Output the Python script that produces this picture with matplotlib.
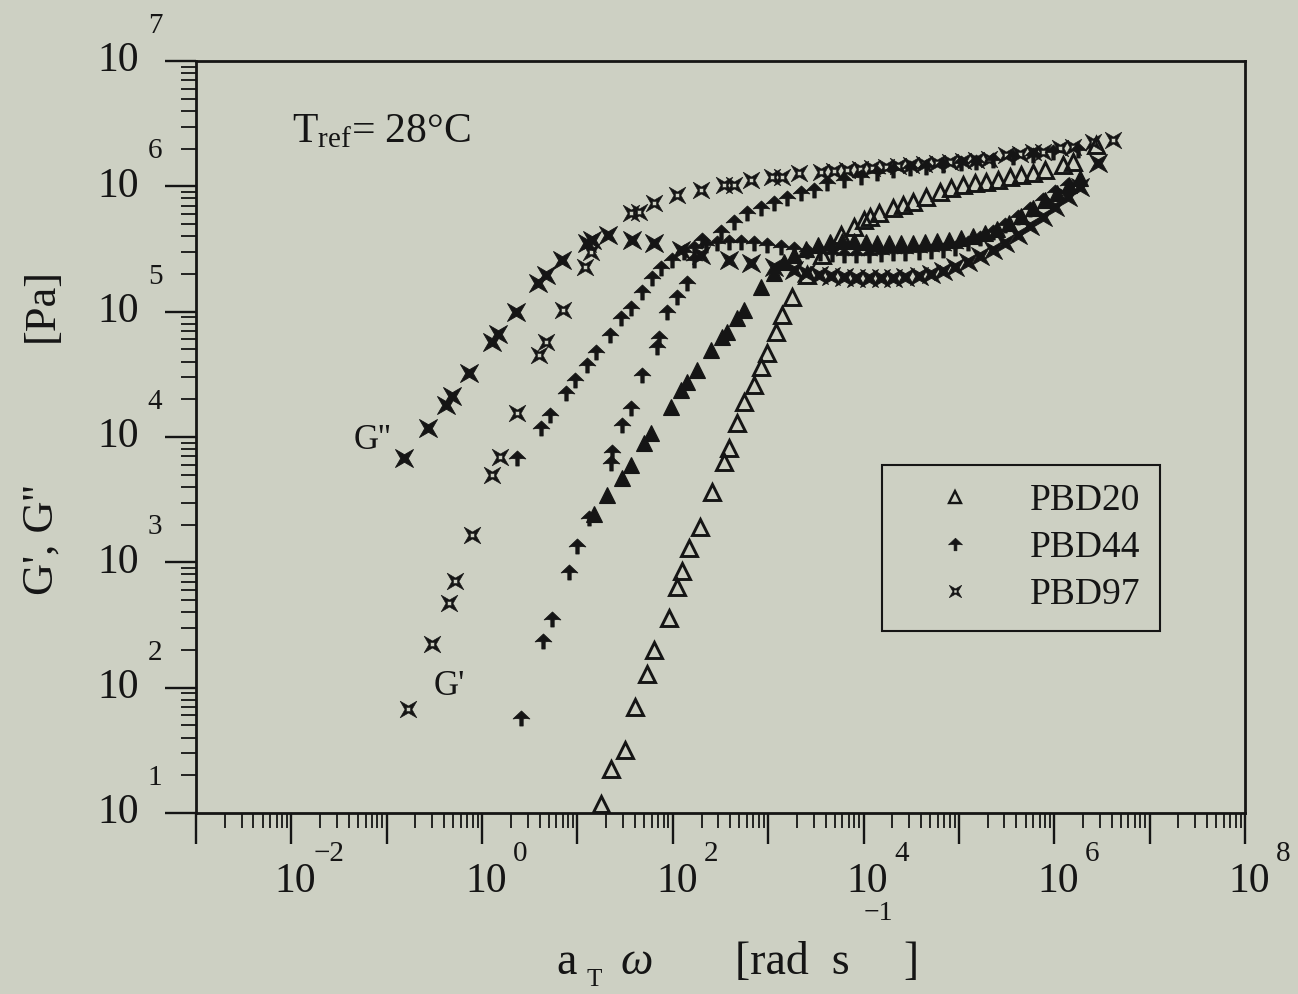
import matplotlib
matplotlib.use("Agg")
import matplotlib.pyplot as plt
import numpy as np
from matplotlib.lines import Line2D
from matplotlib.path import Path
from matplotlib.ticker import FixedLocator, LogLocator, NullFormatter

plt.rcParams["font.family"] = ["Liberation Serif", "DejaVu Serif"]
plt.rcParams["mathtext.fontset"] = "custom"
plt.rcParams["mathtext.rm"] = "Liberation Serif"
plt.rcParams["mathtext.it"] = "Liberation Serif:italic"

BG = "#cdd0c3"
INK = "#151515"

# ---- data: a_T*omega [rad/s], G' and G'' [Pa] ----
pbd20_gp_w = [17.6, 22.4, 31.4, 40.0, 53.5, 63.2, 90.8, 110, 124, 147, 192, 256, 342, 386, 468,
              554, 705, 834, 964, 1200, 1380, 1760, 2530, 3630, 5740, 7850, 1.0e4, 1.18e4, 1.44e4,
              2.06e4, 2.62e4, 3.34e4, 4.57e4, 6.40e4, 8.30e4, 1.11e5, 1.49e5, 1.94e5, 2.59e5,
              3.46e5, 4.51e5, 6.03e5, 8.05e5, 1.24e6, 1.58e6, 2.75e6]
pbd20_gp = [11.8, 22.5, 32, 70.5, 129, 198, 362, 630, 859, 1310, 1930, 3610, 6270, 8110, 1.29e4,
            1.89e4, 2.58e4, 3.6e4, 4.66e4, 6.84e4, 9.35e4, 1.30e5, 1.95e5, 2.82e5, 4.07e5, 4.72e5,
            5.37e5, 5.67e5, 6.1e5, 6.7e5, 7.08e5, 7.48e5, 8.2e5, 9.0e5, 9.68e5, 1.02e6, 1.06e6,
            1.08e6, 1.12e6, 1.18e6, 1.23e6, 1.27e6, 1.35e6, 1.48e6, 1.56e6, 2.13e6]

pbd20_gpp_w = [14.9, 20.4, 29.2, 36.3, 49.7, 58.8, 95.3, 121, 140, 178, 250, 326, 367, 468, 554,
               834, 1140, 1450, 1850, 2470, 3300, 4410, 5890, 7850, 1.05e4, 1.40e4, 1.87e4, 2.50e4,
               3.34e4, 4.46e4, 5.96e4, 7.96e4, 1.06e5, 1.42e5, 1.89e5, 2.53e5, 3.38e5, 4.51e5,
               6.03e5, 8.05e5, 1.07e6, 1.44e6, 1.87e6]
pbd20_gpp = [2.45e3, 3.42e3, 4.75e3, 5.93e3, 8.89e3, 1.07e4, 1.72e4, 2.36e4, 2.73e4, 3.40e4, 4.92e4,
             6.25e4, 6.84e4, 8.85e4, 1.03e5, 1.57e5, 2.03e5, 2.48e5, 2.82e5, 3.15e5, 3.39e5, 3.58e5,
             3.65e5, 3.65e5, 3.58e5, 3.52e5, 3.52e5, 3.52e5, 3.52e5, 3.58e5, 3.65e5, 3.72e5, 3.85e5,
             4.0e5, 4.23e5, 4.55e5, 5.08e5, 5.78e5, 6.7e5, 7.76e5, 8.83e5, 1.02e6, 1.16e6]

pbd44_gp_w = [2.56, 4.35, 5.41, 8.15, 9.88, 13.2, 22.4, 23.0, 29.2, 36.3, 47.3, 68.0, 71.3, 86.5,
              110, 140, 166, 201, 318, 435, 596, 834, 1140, 1560, 2190, 2990, 4100, 6180, 9310,
              1.37e4, 2.06e4, 3.10e4, 4.57e4, 6.89e4, 1.04e5, 1.52e5, 2.30e5, 3.72e5, 6.03e5,
              9.77e5, 1.78e6]
pbd44_gp = [57.5, 237, 356, 845, 1360, 2240, 6150, 7540, 1.24e4, 1.69e4, 3.10e4, 5.20e4, 6.14e4,
            9.89e4, 1.30e5, 1.69e5, 2.58e5, 3.72e5, 4.31e5, 5.18e5, 6.11e5, 6.7e5, 7.34e5, 8.05e5,
            8.83e5, 9.33e5, 1.06e6, 1.12e6, 1.18e6, 1.27e6, 1.35e6, 1.40e6, 1.42e6, 1.48e6, 1.53e6,
            1.56e6, 1.62e6, 1.71e6, 1.77e6, 1.87e6, 1.95e6]

pbd44_gpp_w = [2.32, 4.15, 5.15, 7.58, 9.42, 12.6, 15.6, 21.9, 28.5, 36.3, 47.3, 60.3, 74.8, 97.7,
               130, 166, 222, 289, 386, 515, 705, 964, 1350, 1850, 2530, 3460, 4620, 6180, 8240,
               1.13e4, 1.51e4, 2.06e4, 2.75e4, 3.77e4, 5.04e4, 6.89e4, 9.19e4, 1.26e5, 1.68e5,
               2.30e5, 3.07e5, 4.20e5, 5.61e5, 7.67e5, 1.02e6, 1.40e6]
pbd44_gpp = [6.74e3, 1.17e4, 1.49e4, 2.23e4, 2.83e4, 3.73e4, 4.74e4, 6.48e4, 8.85e4, 1.06e5, 1.43e5,
             1.85e5, 2.22e5, 2.58e5, 2.98e5, 3.21e5, 3.39e5, 3.52e5, 3.58e5, 3.58e5, 3.52e5, 3.39e5,
             3.27e5, 3.15e5, 3.05e5, 2.95e5, 2.88e5, 2.85e5, 2.85e5, 2.85e5, 2.88e5, 2.92e5, 2.95e5,
             3.0e5, 3.05e5, 3.12e5, 3.25e5, 3.52e5, 3.85e5, 4.31e5, 4.90e5, 5.67e5, 6.58e5, 7.76e5,
             9.0e5, 1.02e6]

pbd97_gp_w = [0.168, 0.299, 0.451, 0.521, 0.786, 1.27, 1.54, 2.32, 3.95, 4.68, 7.05, 12.0, 13.8,
              36.3, 44.0, 63.2, 110, 196, 342, 435, 656, 1090, 1380, 2080, 3550, 4850, 6640, 9080,
              1.24e4, 1.70e4, 2.32e4, 3.18e4, 4.35e4, 5.96e4, 8.15e4, 1.11e5, 1.52e5, 2.08e5,
              3.14e5, 4.4e5, 6.03e5, 7.67e5, 1.16e6, 1.58e6, 2.56e6, 4.15e6]
pbd97_gp = [68, 224, 478, 716, 1640, 4930, 6870, 1.54e4, 4.49e4, 5.70e4, 1.04e5, 2.26e5, 2.98e5,
            6.11e5, 6.22e5, 7.34e5, 8.51e5, 9.33e5, 1.02e6, 1.02e6, 1.12e6, 1.18e6, 1.18e6, 1.27e6,
            1.30e6, 1.32e6, 1.35e6, 1.37e6, 1.40e6, 1.42e6, 1.45e6, 1.48e6, 1.50e6, 1.53e6, 1.56e6,
            1.59e6, 1.62e6, 1.65e6, 1.77e6, 1.82e6, 1.87e6, 1.87e6, 2.02e6, 2.06e6, 2.25e6, 2.34e6]

pbd97_gpp_w = [0.152, 0.272, 0.420, 0.485, 0.731, 1.27, 1.47, 2.27, 3.86, 4.68, 6.88, 12.6, 14.2,
               20.9, 37.2, 63.2, 121, 196, 386, 656, 1140, 1850, 2470, 3380, 4510, 6180, 8240,
               1.13e4, 1.51e4, 2.06e4, 2.75e4, 3.77e4, 5.04e4, 6.89e4, 9.19e4, 1.26e5, 1.68e5,
               2.30e5, 3.07e5, 4.20e5, 5.61e5, 7.67e5, 1.02e6, 1.40e6, 1.87e6, 2.89e6]
pbd97_gpp = [6.74e3, 1.19e4, 1.79e4, 2.11e4, 3.22e4, 5.70e4, 6.59e4, 9.89e4, 1.69e5, 1.95e5, 2.58e5,
             3.52e5, 3.72e5, 4.07e5, 3.72e5, 3.52e5, 3.09e5, 2.82e5, 2.58e5, 2.44e5, 2.26e5, 2.14e5,
             2.03e5, 1.95e5, 1.92e5, 1.88e5, 1.85e5, 1.85e5, 1.85e5, 1.85e5, 1.88e5, 1.92e5, 1.99e5,
             2.10e5, 2.26e5, 2.48e5, 2.77e5, 3.09e5, 3.52e5, 4.07e5, 4.81e5, 5.67e5, 6.82e5, 8.2e5,
             9.86e5, 1.53e6]

legend_labels = ["PBD20", "PBD44", "PBD97"]
x_exponents = [-2, 0, 2, 4, 6, 8]
y_exponents = [1, 2, 3, 4, 5, 6, 7]


def star_path(hole):
    k = 0.42
    verts = [(1, 1), (0, k), (-1, 1), (-k, 0), (-1, -1), (0, -k), (1, -1), (k, 0), (1, 1)]
    codes = [Path.MOVETO] + [Path.LINETO] * 7 + [Path.CLOSEPOLY]
    if hole:
        h = 0.24
        verts += [(-h, h), (h, h), (h, -h), (-h, -h), (-h, h)]
        codes += [Path.MOVETO] + [Path.LINETO] * 3 + [Path.CLOSEPOLY]
    return Path(verts, codes)


# umbrella-like arrow used for PBD44
ARROW = Path([(0, 0.9), (1, -0.05), (0.55, 0.02), (0.2, -0.05), (0.2, -0.9), (-0.2, -0.9),
              (-0.2, -0.05), (-0.55, 0.02), (-1, -0.05), (0, 0.9)],
             [Path.MOVETO] + [Path.LINETO] * 8 + [Path.CLOSEPOLY])
STAR_OPEN = star_path(True)
STAR_FULL = star_path(False)

W, H = 1298, 994
fig = plt.figure(figsize=(W / 100, H / 100), dpi=100, facecolor=BG)
ax = fig.add_axes([196 / W, 1 - 813 / H, (1245 - 196) / W, (813 - 61) / H])
ax.set_facecolor(BG)
ax.set_xscale("log")
ax.set_yscale("log")
ax.set_xlim(1e-3, 1e8)
ax.set_ylim(10, 1e7)

kw = dict(ls="none", color=INK)
ax.plot(pbd20_gp_w, pbd20_gp, marker="^", ms=11, mfc="none", mec=INK, mew=2.1, **kw)
ax.plot(pbd20_gpp_w, pbd20_gpp, marker="^", ms=12, mfc=INK, mec=INK, mew=0.8, **kw)
ax.plot(pbd44_gp_w, pbd44_gp, marker=ARROW, ms=12, mfc=INK, mec=INK, mew=0.6, **kw)
ax.plot(pbd44_gpp_w, pbd44_gpp, marker=ARROW, ms=12, mfc=INK, mec=INK, mew=0.6, **kw)
ax.plot(pbd97_gp_w, pbd97_gp, marker=STAR_OPEN, ms=12, mfc=INK, mec=INK, mew=0.4, **kw)
ax.plot(pbd97_gpp_w, pbd97_gpp, marker=STAR_FULL, ms=13, mfc=INK, mec=INK, mew=0.6, **kw)

# axes / ticks
for sp in ax.spines.values():
    sp.set_linewidth(2.0)
    sp.set_color(INK)
ax.xaxis.set_major_locator(FixedLocator(10.0 ** np.arange(-3, 9)))
ax.yaxis.set_major_locator(FixedLocator(10.0 ** np.arange(1, 8)))
ax.xaxis.set_minor_locator(LogLocator(base=10, subs=np.arange(2, 10), numticks=200))
ax.yaxis.set_minor_locator(LogLocator(base=10, subs=np.arange(2, 10), numticks=200))
ax.xaxis.set_minor_formatter(NullFormatter())
ax.yaxis.set_minor_formatter(NullFormatter())
ax.tick_params(which="major", direction="out", length=22, width=1.7, color=INK,
               top=False, right=False, labelbottom=False, labelleft=False)
ax.tick_params(which="minor", direction="out", length=11, width=1.3, color=INK,
               top=False, right=False)

PT = 0.72  # points per pixel at dpi 100
for e in x_exponents:
    ax.annotate("10", xy=(10.0 ** e, 0), xycoords=("data", "axes fraction"),
                xytext=(4 * PT, -69 * PT), textcoords="offset points",
                ha="center", va="center", fontsize=30, color=INK, annotation_clip=False)
    ax.annotate(str(e).replace("-", "\u2212"), xy=(10.0 ** e, 0), xycoords=("data", "axes fraction"),
                xytext=(38 * PT, -41 * PT), textcoords="offset points",
                ha="center", va="center", fontsize=21, color=INK, annotation_clip=False)
for e in y_exponents:
    ax.annotate("10", xy=(0, 10.0 ** e), xycoords=("axes fraction", "data"),
                xytext=(-57 * PT, 0), textcoords="offset points",
                ha="right", va="center", fontsize=30, color=INK, annotation_clip=False)
    ax.annotate(str(e), xy=(0, 10.0 ** e), xycoords=("axes fraction", "data"),
                xytext=(-41 * PT, 35 * PT), textcoords="offset points",
                ha="center", va="center", fontsize=21, color=INK, annotation_clip=False)


def fx(x, y):
    return x / W, 1 - y / H


# axis labels built from pieces to mimic the typewriter layout
fig.text(*fx(556, 974), "a", fontsize=33, color=INK, va="baseline")
fig.text(*fx(594, 980), "T", fontsize=18, color=INK, ha="center", va="center")
fig.text(*fx(620, 974), "\u03c9", fontsize=33, color=INK, va="baseline", style="italic")
fig.text(*fx(735, 974), "[rad  s", fontsize=33, color=INK, va="baseline")
fig.text(*fx(878, 913), "\u22121", fontsize=20, color=INK, ha="center", va="center")
fig.text(*fx(903, 974), "]", fontsize=33, color=INK, va="baseline")

fig.text(*fx(42, 540), "G', G''", fontsize=32, color=INK, rotation=90, ha="center", va="center")
fig.text(*fx(42, 305), "[Pa]", fontsize=32, color=INK, rotation=90, ha="center", va="center")

ax.text((292 - 196) / 1049, (813 - 132) / 752, r"$\mathrm{T_{ref}}$= 28°C", transform=ax.transAxes,
        fontsize=30, color=INK, ha="left", va="center")
ax.text(0.0705, 9.4e3, "G''", fontsize=25, color=INK, ha="center", va="center")
ax.text(0.451, 102, "G'", fontsize=25, color=INK, ha="center", va="center")

handles = [
    Line2D([], [], ls="none", marker="^", ms=8, mfc="none", mec=INK, mew=1.7),
    Line2D([], [], ls="none", marker=ARROW, ms=10, mfc=INK, mec=INK, mew=0.5),
    Line2D([], [], ls="none", marker=STAR_OPEN, ms=9, mfc=INK, mec=INK, mew=0.4),
]
leg = ax.legend(handles, legend_labels, loc="upper left", bbox_to_anchor=(0.654, 0.463),
                borderaxespad=0, frameon=True, fancybox=False, edgecolor=INK, facecolor=BG,
                framealpha=1, fontsize=27, handlelength=2.9, handletextpad=0.55,
                labelspacing=0.33, borderpad=0.5)
leg.get_frame().set_linewidth(1.5)
for t in leg.get_texts():
    t.set_color(INK)

fig.savefig("out.png", dpi=100, facecolor=BG)
